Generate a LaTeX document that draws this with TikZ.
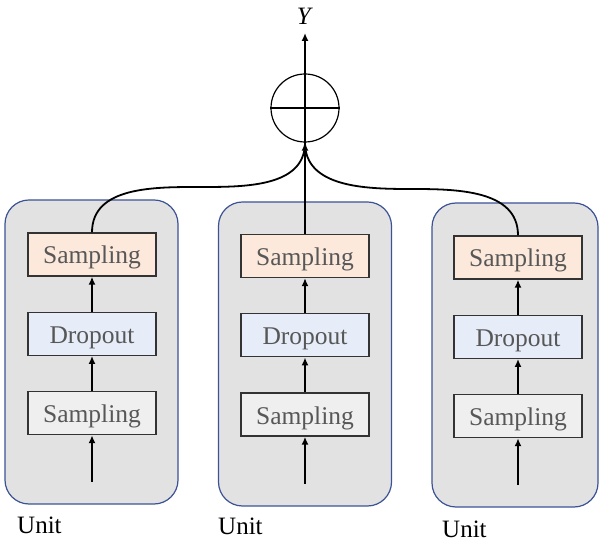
\documentclass[tikz,border=0pt]{standalone}
\usepackage{fontspec}
\setmainfont{Liberation Serif}
\usetikzlibrary{arrows.meta,positioning,calc}
\definecolor{unitfill}{HTML}{E2E2E2}
\definecolor{unitline}{HTML}{3B5396}
\definecolor{outfill}{HTML}{FCE9DC}
\definecolor{dropfill}{HTML}{E6ECF8}
\definecolor{infill}{HTML}{EFEFEF}
\definecolor{labelgray}{HTML}{575757}
\tikzset{
  unitbox/.style={draw=unitline, fill=unitfill, line width=1.2pt, rounded corners=24pt,
    minimum width=173pt, minimum height=304pt, inner sep=0pt},
  layer/.style={draw=black!80, line width=1.3pt, minimum width=128pt, minimum height=43pt,
    inner sep=0pt, text height=19pt, text depth=0pt, text=labelgray,
    font=\fontsize{25.5}{30}\selectfont},
  samplein/.style={layer, fill=infill},
  sampleout/.style={layer, fill=outfill},
  dropbox/.style={layer, fill=dropfill},
  sumnode/.style={draw, circle, line width=1.2pt, minimum size=68pt, inner sep=0pt},
  edgeup/.style={black, line width=1.8pt, -{Latex[length=8pt,width=7pt]}},
  edgesum/.style={black, line width=1.8pt},
  unitlabel/.style={anchor=west, inner sep=0pt, font=\fontsize{25}{30}\selectfont}
}

\begin{document}
\begin{tikzpicture}[x=1pt, y=1pt, node distance=35pt]
\useasboundingbox (0,0) rectangle (599,543);

% the three units
\node[unitbox] (u1) at (91.5,191) {};
\node[unitbox] (u2) at (305,189) {};
\node[unitbox, minimum width=166pt] (u3) at (515,188) {};

\node[sampleout] (out1) at (92,288.5) {Sampling};
\node[dropbox, below=of out1] (drop1) {Dropout};
\node[samplein, below=of drop1] (samp1) {Sampling};
\coordinate[below=47pt of samp1.south] (in1);

\node[sampleout] (out2) at (305,287) {Sampling};
\node[dropbox, below=of out2] (drop2) {Dropout};
\node[samplein, below=of drop2] (samp2) {Sampling};
\coordinate[below=47pt of samp2.south] (in2);

\node[sampleout] (out3) at (518,285.5) {Sampling};
\node[dropbox, below=of out3] (drop3) {Dropout};
\node[samplein, below=of drop3] (samp3) {Sampling};
\coordinate[below=47pt of samp3.south] (in3);

\node[unitlabel] (lab1) at (17,18) {Unit};
\node[unitlabel] (lab2) at (218,17) {Unit};
\node[unitlabel] (lab3) at (442,14) {Unit};

% arrows inside each unit
\draw[edgeup] (in1) -- (samp1);
\draw[edgeup] (samp1) -- (drop1);
\draw[edgeup] (drop1) -- (out1);
\draw[edgeup] (in2) -- (samp2);
\draw[edgeup] (samp2) -- (drop2);
\draw[edgeup] (drop2) -- (out2);
\draw[edgeup] (in3) -- (samp3);
\draw[edgeup] (samp3) -- (drop3);
\draw[edgeup] (drop3) -- (out3);

% sum of the unit outputs
\node[sumnode] (sum) at (305,435) {};
\draw[line width=1.2pt] (sum.north) -- (sum.south) (sum.west) -- (sum.east);
\coordinate (bendl) at (200,356);
\coordinate (bendr) at (410,354);
\draw[edgesum] (out1.north) to[out=90, in=180] (bendl) to[out=0, in=-90] (sum.south);
\draw[edgesum] (out3.north) to[out=90, in=0] (bendr) to[out=180, in=-90] (sum.south);
\draw[edgeup] (out2) -- (sum.south);

\coordinate (top) at (305,510);
\draw[edgeup] (sum.north) -- (top);
\node (y) at (305,527) {\fontsize{25}{30}\selectfont\textit{Y}};
\end{tikzpicture}
\end{document}
